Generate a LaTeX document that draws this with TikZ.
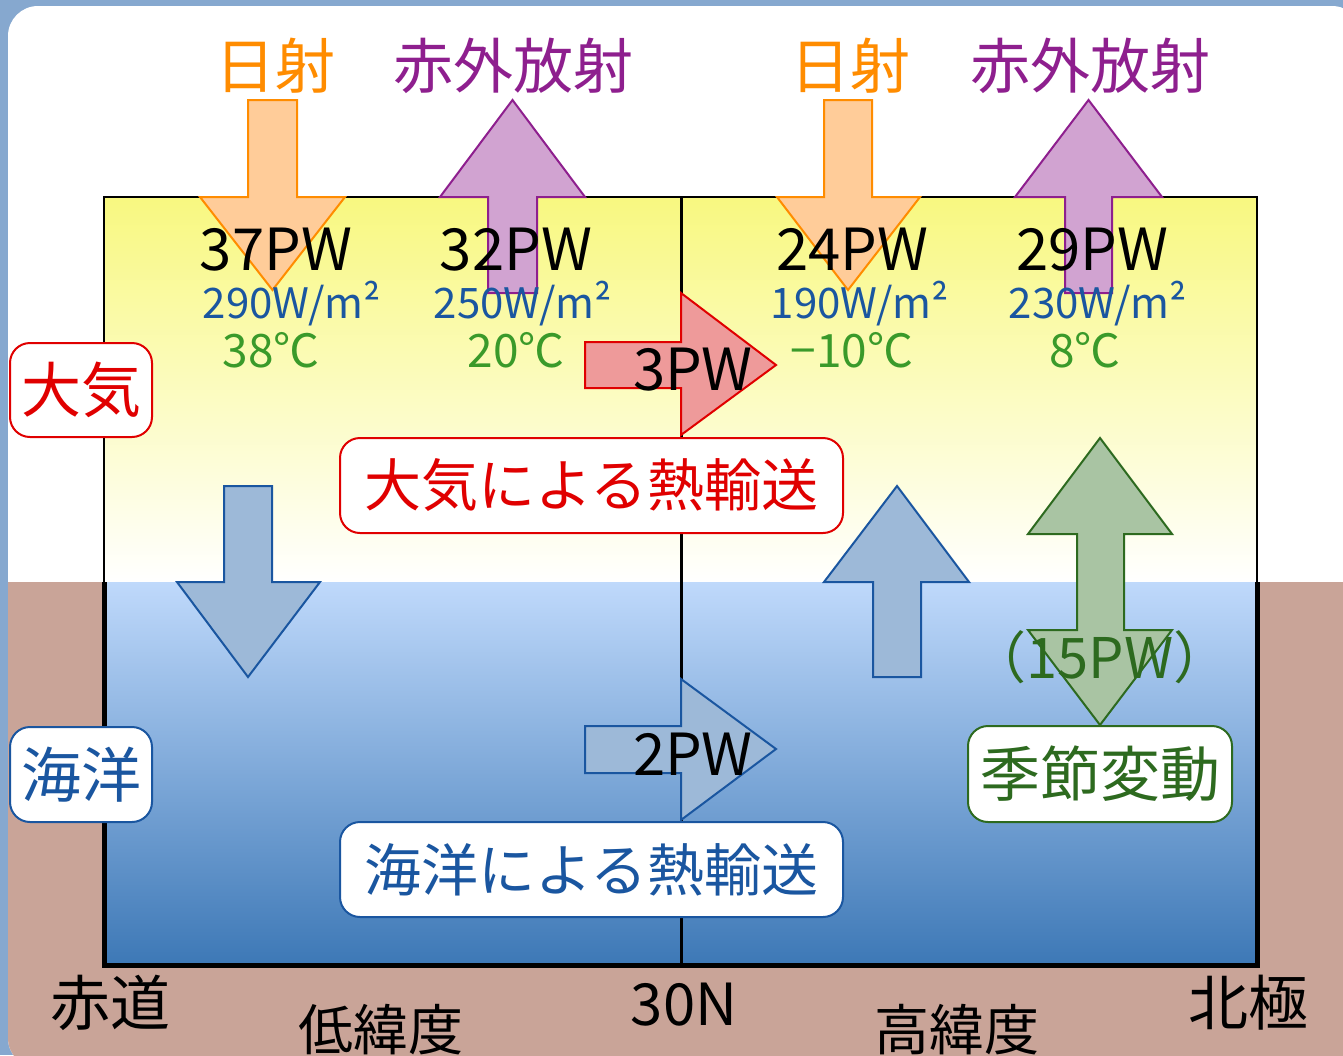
\documentclass[tikz,border=0pt]{standalone}
\usepackage{fontspec}
\setmainfont{Noto Sans CJK JP}
\definecolor{outerblue}{HTML}{86A8CF}
\definecolor{landbrown}{HTML}{C9A498}
\definecolor{sunor}{HTML}{FF8C00}
\definecolor{sunfill}{HTML}{FFCC99}
\definecolor{irpur}{HTML}{8E1F8E}
\definecolor{irfill}{HTML}{D1A3D1}
\definecolor{seablue}{HTML}{1A56A0}
\definecolor{seafill}{HTML}{9DB9D8}
\definecolor{tempgreen}{HTML}{3A9A2A}
\definecolor{darkgreen}{HTML}{2D6A1F}
\definecolor{greenfill}{HTML}{A9C4A3}
\definecolor{atmred}{HTML}{E00000}
\definecolor{redfill}{HTML}{EE9A9A}
\definecolor{yellowtop}{HTML}{F8F880}
\definecolor{oceantop}{HTML}{BFD9FB}
\definecolor{oceanbot}{HTML}{3D78B6}
\tikzset{
  sunarrow/.style={fill=sunfill,draw=sunor,line width=2pt,line join=miter},
  irarrow/.style={fill=irfill,draw=irpur,line width=2pt,line join=miter},
  bluearrow/.style={fill=seafill,draw=seablue,line width=2pt,line join=miter},
  redarrow/.style={fill=redfill,draw=atmred,line width=2pt,line join=miter},
  greenarrow/.style={fill=greenfill,draw=darkgreen,line width=2pt,line join=miter},
  lbl/.style={inner sep=0pt,anchor=base},
  bigtxt/.style={lbl,font=\fontsize{60}{60}\selectfont},
  lattxt/.style={lbl,font=\fontsize{55}{55}\selectfont},
  pwtxt/.style={lbl,font=\fontsize{58}{58}\selectfont,text=black},
  wmtxt/.style={lbl,font=\fontsize{42}{42}\selectfont,text=seablue},
  degtxt/.style={lbl,font=\fontsize{46}{46}\selectfont,text=tempgreen},
  tagbox/.style={draw,fill=white,line width=2pt,rounded corners=20pt,inner sep=0pt,font=\fontsize{60}{60}\selectfont},
  widetag/.style={tagbox,font=\fontsize{57}{57}\selectfont},
}
\begin{document}
\begin{tikzpicture}[x=1pt,y=-1pt]
\useasboundingbox (0,0) rectangle (1343,1055);
% background
\fill[outerblue] (0,0) rectangle (1343,1055);
\begin{scope}
  \clip[rounded corners=30pt] (8,6) rectangle (1362,1068);
  \fill[white] (0,0) rectangle (1370,1070);
  \fill[landbrown] (0,582) rectangle (1370,1070);
\end{scope}
% atmosphere and ocean
\shade[top color=yellowtop,bottom color=white] (104,197) rectangle (1257,582);
\shade[top color=oceantop,bottom color=oceanbot] (104,582) rectangle (1257,965);
% frame lines
\draw[line width=2pt] (104,582) -- (104,197) -- (1257,197) -- (1257,582);
\draw[line width=5pt,line join=miter] (104,582) -- (104,965) -- (1257,965) -- (1257,582);
\draw[line width=3pt] (681,197) -- (681,965);
% solar arrows (down)
\draw[sunarrow] (248,100) -- (297,100) -- (297,197) -- (345,197) -- (272.5,290) -- (200,197) -- (248,197) -- cycle;
\draw[sunarrow] (824,100) -- (872,100) -- (872,197) -- (920,197) -- (848,290) -- (777,197) -- (824,197) -- cycle;
% infrared arrows (up)
\draw[irarrow] (488,293) -- (537,293) -- (537,197) -- (585,197) -- (512.5,100) -- (440,197) -- (488,197) -- cycle;
\draw[irarrow] (1065,293) -- (1112,293) -- (1112,197) -- (1162,197) -- (1088.5,100) -- (1015,197) -- (1065,197) -- cycle;
% atmospheric transport arrow
\draw[redarrow] (585,342) -- (681,342) -- (681,293) -- (776,365) -- (681,435) -- (681,388) -- (585,388) -- cycle;
% ocean transport arrow
\draw[bluearrow] (585,726) -- (681,726) -- (681,679) -- (776,749) -- (681,820) -- (681,773) -- (585,773) -- cycle;
% vertical exchange arrows
\draw[bluearrow] (224,486) -- (272,486) -- (272,582) -- (320,582) -- (248,677) -- (177,582) -- (224,582) -- cycle;
\draw[bluearrow] (873,677) -- (921,677) -- (921,582) -- (969,582) -- (897,486) -- (824,582) -- (873,582) -- cycle;
% seasonal double arrow
\draw[greenarrow] (1100,438) -- (1172,534) -- (1124,534) -- (1124,630) -- (1172,630) -- (1100,725) -- (1028,630) -- (1077,630) -- (1077,534) -- (1028,534) -- cycle;
% top labels
\node[bigtxt,text=sunor] (sun1) at (275,88) {日射};
\node[bigtxt,text=irpur] (ir1) at (513,88) {赤外放射};
\node[bigtxt,text=sunor] (sun2) at (850,88) {日射};
\node[bigtxt,text=irpur] (ir2) at (1090,88) {赤外放射};
% fluxes
\node[pwtxt] (pw37) at (276,270) {37PW};
\node[pwtxt] (pw32) at (516,270) {32PW};
\node[pwtxt] (pw24) at (852,270) {24PW};
\node[pwtxt] (pw29) at (1092,270) {29PW};
\node[wmtxt] (wm1) at (292,318) {290W/m²};
\node[wmtxt] (wm2) at (523,318) {250W/m²};
\node[wmtxt] (wm3) at (860,318) {190W/m²};
\node[wmtxt] (wm4) at (1098,318) {230W/m²};
\node[degtxt] (t1) at (271,367) {38℃};
\node[degtxt] (t2) at (516,367) {20℃};
\node[degtxt] (t3) at (852,367) {−10℃};
\node[degtxt] (t4) at (1085,367) {8℃};
\node[pwtxt] (pw3) at (693,390) {3PW};
\node[pwtxt] (pw2) at (693,775) {2PW};
\node[lbl,font=\fontsize{56}{56}\selectfont,text=darkgreen] (pw15) at (1100,678) {（15PW）};
% tag boxes
\node[tagbox,draw=atmred,text=atmred,minimum width=142pt,minimum height=94pt] (atm) at (81,390) {大気};
\node[widetag,draw=atmred,text=atmred,minimum width=503pt,minimum height=95pt] (atmtr) at (591.5,485.5) {大気による熱輸送};
\node[tagbox,draw=darkgreen,text=darkgreen,minimum width=264pt,minimum height=96pt] (season) at (1100,774) {季節変動};
\node[tagbox,draw=seablue,text=seablue,minimum width=142pt,minimum height=95pt] (ocean) at (81,774.5) {海洋};
\node[widetag,draw=seablue,text=seablue,minimum width=503pt,minimum height=95pt] (oceantr) at (591.5,869.5) {海洋による熱輸送};
% bottom axis labels
\node[bigtxt] (eq) at (110,1025) {赤道};
\node[lattxt] (low) at (381,1050) {低緯度};
\node[pwtxt] (n30) at (684,1025) {30N};
\node[lattxt] (high) at (957,1050) {高緯度};
\node[bigtxt] (pole) at (1248,1025) {北極};
\end{tikzpicture}
\end{document}
